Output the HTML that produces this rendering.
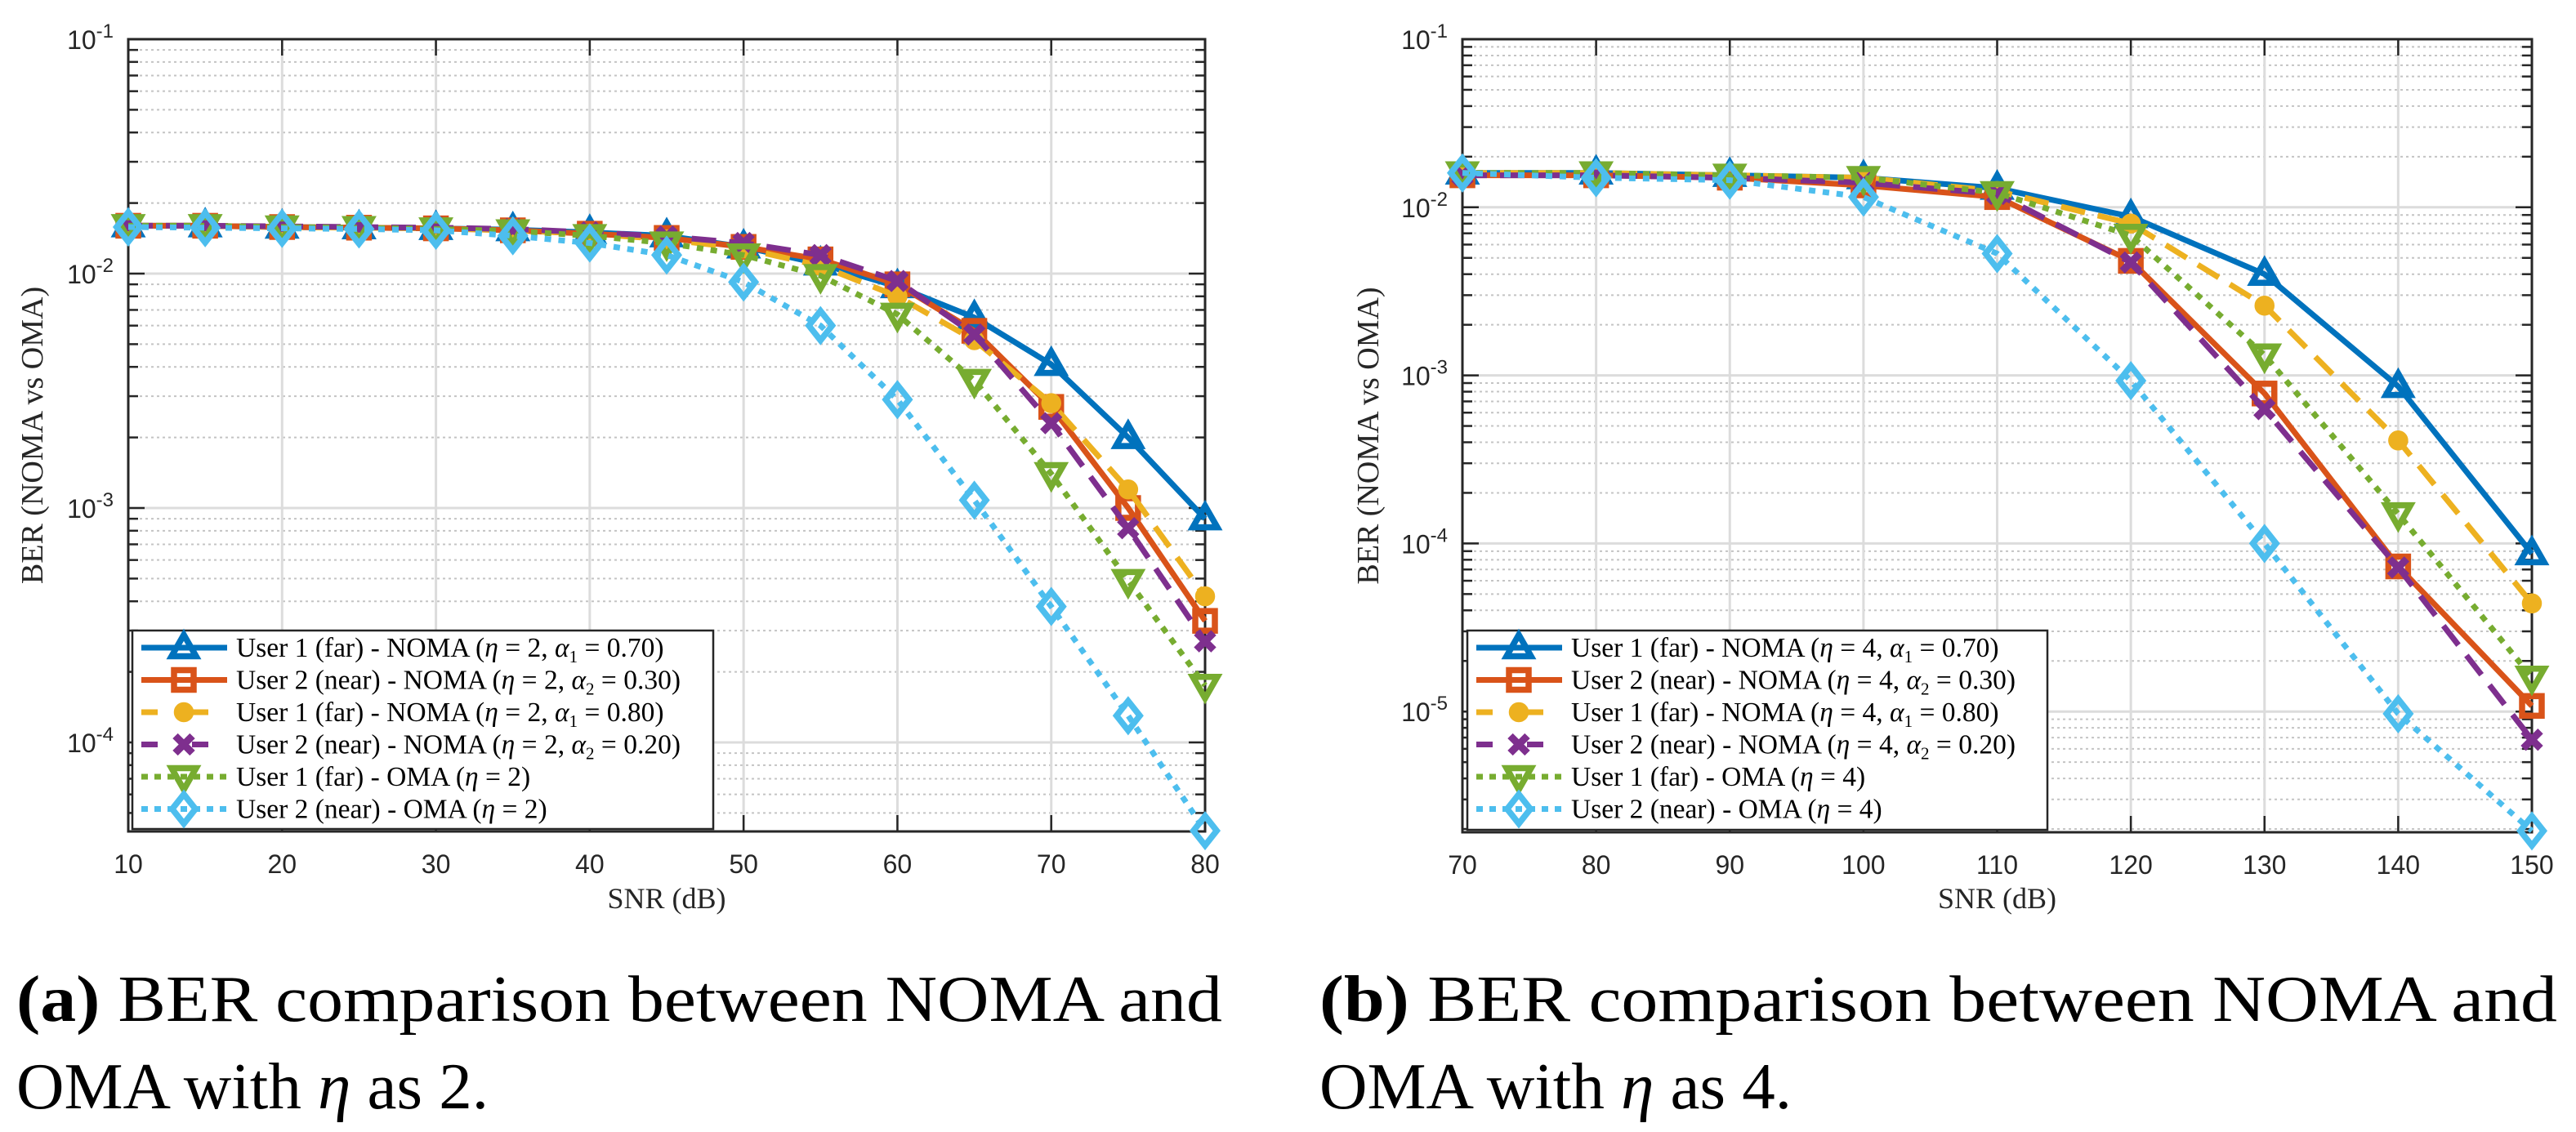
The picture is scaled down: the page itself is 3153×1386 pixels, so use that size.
<!DOCTYPE html>
<html><head><meta charset="utf-8"><style>
html,body{margin:0;padding:0;background:#fff;}
svg{display:block;}
</style></head>
<body>
<svg id="fig" width="3153" height="1386" viewBox="0 0 3153 1386" xmlns="http://www.w3.org/2000/svg">
<g id="plotA"></g>
<g id="plotB"></g>
<g font-family="'Liberation Serif', serif" font-size="80" fill="#000">
<text x="20" y="1250" textLength="1476" lengthAdjust="spacingAndGlyphs"><tspan font-weight="bold">(a)</tspan> BER comparison between NOMA and</text>
<text x="20" y="1357" textLength="578" lengthAdjust="spacingAndGlyphs">OMA with <tspan font-style="italic">η</tspan> as 2.</text>
<text x="1615" y="1250" textLength="1515" lengthAdjust="spacingAndGlyphs"><tspan font-weight="bold">(b)</tspan> BER comparison between NOMA and</text>
<text x="1615" y="1357" textLength="578" lengthAdjust="spacingAndGlyphs">OMA with <tspan font-style="italic">η</tspan> as 4.</text>
</g>
</svg>
<script>
// ---- Data: plot (a) ----
const snrA = [10,15,20,25,30,35,40,45,50,55,60,65,70,75,80];
const a_u1_070 = [1.6e-2,1.6e-2,1.58e-2,1.57e-2,1.56e-2,1.54e-2,1.5e-2,1.45e-2,1.3e-2,1.1e-2,8.8e-3,6.5e-3,4.1e-3,2.0e-3,9.0e-4];
const a_u2_030 = [1.6e-2,1.6e-2,1.58e-2,1.57e-2,1.56e-2,1.53e-2,1.48e-2,1.42e-2,1.3e-2,1.15e-2,9.0e-3,5.7e-3,2.7e-3,1.0e-3,3.3e-4];
const a_u1_080 = [1.6e-2,1.6e-2,1.58e-2,1.57e-2,1.56e-2,1.53e-2,1.48e-2,1.4e-2,1.28e-2,1.08e-2,8.0e-3,5.2e-3,2.8e-3,1.2e-3,4.2e-4];
const a_u2_020 = [1.6e-2,1.6e-2,1.59e-2,1.58e-2,1.57e-2,1.55e-2,1.5e-2,1.44e-2,1.35e-2,1.2e-2,9.3e-3,5.5e-3,2.3e-3,8.2e-4,2.7e-4];
const a_oma1 = [1.6e-2,1.6e-2,1.58e-2,1.57e-2,1.55e-2,1.52e-2,1.45e-2,1.35e-2,1.2e-2,9.8e-3,6.7e-3,3.5e-3,1.4e-3,4.9e-4,1.75e-4];
const a_oma2 = [1.58e-2,1.57e-2,1.56e-2,1.55e-2,1.53e-2,1.45e-2,1.35e-2,1.2e-2,9.2e-3,6.0e-3,2.9e-3,1.08e-3,3.8e-4,1.3e-4,4.2e-5];
const xTicksA = [10,20,30,40,50,60,70,80];
const yDecA = [-1,-2,-3,-4];

// ---- Data: plot (b) ----
const snrB = [70,80,90,100,110,120,130,140,150];
const b_u1_070 = [1.6e-2,1.6e-2,1.55e-2,1.5e-2,1.3e-2,8.8e-3,4.0e-3,8.6e-4,8.7e-5];
const b_u2_030 = [1.55e-2,1.55e-2,1.5e-2,1.35e-2,1.15e-2,4.8e-3,7.8e-4,7.3e-5,1.08e-5];
const b_u1_080 = [1.6e-2,1.6e-2,1.55e-2,1.5e-2,1.25e-2,8.0e-3,2.6e-3,4.1e-4,4.4e-5];
const b_u2_020 = [1.55e-2,1.55e-2,1.5e-2,1.4e-2,1.2e-2,4.7e-3,6.3e-4,7.2e-5,6.8e-6];
const b_oma1 = [1.6e-2,1.6e-2,1.55e-2,1.5e-2,1.22e-2,6.8e-3,1.32e-3,1.5e-4,1.6e-5];
const b_oma2 = [1.6e-2,1.5e-2,1.45e-2,1.15e-2,5.3e-3,9.3e-4,1.0e-4,9.7e-6,1.95e-6];
const xTicksB = [70,80,90,100,110,120,130,140,150];
const yDecB = [-1,-2,-3,-4,-5];

const NS='http://www.w3.org/2000/svg';
function mk(tag, attrs, parent){const e=document.createElementNS(NS,tag);for(const k in attrs)e.setAttribute(k,attrs[k]);if(parent)parent.appendChild(e);return e;}

const styles = [
 {color:'#0072BD', dash:'', marker:'tri-up'},
 {color:'#D95319', dash:'', marker:'square'},
 {color:'#EDB120', dash:'30 16', marker:'circle'},
 {color:'#7E2F8E', dash:'30 16', marker:'cross'},
 {color:'#77AC30', dash:'8 9', marker:'tri-down'},
 {color:'#4DBEEE', dash:'8 9', marker:'diamond'}
];
const seriesNames=['user1-far-noma-a070','user2-near-noma-a030','user1-far-noma-a080','user2-near-noma-a020','user1-far-oma','user2-near-oma'];

function marker(g,type,x,y,color,s){
  let m;
  const sw=7.5;
  if(type==='tri-up') m=mk('polygon',{points:`${x},${y-s*1.05} ${x-s},${y+s*0.7} ${x+s},${y+s*0.7}`,fill:'none',stroke:color,'stroke-width':sw},g);
  else if(type==='tri-down') m=mk('polygon',{points:`${x},${y+s*1.05} ${x-s},${y-s*0.7} ${x+s},${y-s*0.7}`,fill:'none',stroke:color,'stroke-width':sw},g);
  else if(type==='square') m=mk('rect',{x:x-s*0.8,y:y-s*0.8,width:s*1.6,height:s*1.6,fill:'none',stroke:color,'stroke-width':sw},g);
  else if(type==='circle') m=mk('circle',{cx:x,cy:y,r:s*0.75,fill:color,stroke:color,'stroke-width':2},g);
  else if(type==='diamond') m=mk('polygon',{points:`${x},${y-s*1.2} ${x+s*0.95},${y} ${x},${y+s*1.2} ${x-s*0.95},${y}`,fill:'none',stroke:color,'stroke-width':sw},g);
  else if(type==='cross') m=mk('path',{d:`M${x-s*0.7},${y-s*0.7}L${x+s*0.7},${y+s*0.7}M${x-s*0.7},${y+s*0.7}L${x+s*0.7},${y-s*0.7}`,stroke:color,'stroke-width':9,fill:'none'},g);
  
  
  return m;
}

function drawPlot(root, cfg){
  const {L,R,T,B,xmin,xmax,ymaxExp,yminExp,xs,series,xticks,ydecs,eta,legX,legW} = cfg;
  const X = v => L + (v-xmin)/(xmax-xmin)*(R-L);
  const Y = v => T + (ymaxExp - Math.log10(v))/(ymaxExp-yminExp)*(B-T);
  const grid = mk('g',{},root);
  
  
  for(let d=Math.floor(yminExp); d<ymaxExp; d++){
    for(let k=2;k<=9;k++){
      const v=k*Math.pow(10,d); if(Math.log10(v)<yminExp||Math.log10(v)>ymaxExp) continue;
      const y=Y(v);
      mk('line',{x1:L,x2:R,y1:y,y2:y,stroke:'#c4c4c4','stroke-width':2,'stroke-dasharray':'3 4'},grid);
      mk('line',{x1:L,x2:L+12,y1:y,y2:y,stroke:'#262626','stroke-width':2.5},grid);
      mk('line',{x1:R-12,x2:R,y1:y,y2:y,stroke:'#262626','stroke-width':2.5},grid);
    }
  }
  ydecs.forEach(d=>{const y=Y(Math.pow(10,d));
    mk('line',{x1:L,x2:R,y1:y,y2:y,stroke:'#dcdcdc','stroke-width':3},grid);
    mk('line',{x1:L,x2:L+20,y1:y,y2:y,stroke:'#262626','stroke-width':2.5},grid);
    mk('line',{x1:R-20,x2:R,y1:y,y2:y,stroke:'#262626','stroke-width':2.5},grid);
    const t=mk('text',{x:L-18,y:y+12,'text-anchor':'end','font-family':"'Liberation Sans',sans-serif",'font-size':32,fill:'#262626'},root);
    
    
    t.innerHTML=`10<tspan dy="-14" font-size="24">${d}</tspan>`;
  });
  xticks.forEach(v=>{const x=X(v);
    mk('line',{x1:x,x2:x,y1:T,y2:B,stroke:'#dcdcdc','stroke-width':3},grid);
    mk('line',{x1:x,x2:x,y1:B,y2:B-20,stroke:'#262626','stroke-width':2.5},grid);
    mk('line',{x1:x,x2:x,y1:T,y2:T+20,stroke:'#262626','stroke-width':2.5},grid);
    const t=mk('text',{x:x,y:B+51,'text-anchor':'middle','font-family':"'Liberation Sans',sans-serif",'font-size':32,fill:'#262626'},root);
    
    
    t.textContent=v;
  });
  const box=mk('rect',{x:L,y:T,width:R-L,height:B-T,fill:'none',stroke:'#262626','stroke-width':3},root);
  
  
  const clip='clip'+L;
  const cp=mk('clipPath',{id:clip},root); mk('rect',{x:L-30,y:T,width:R-L+60,height:B-T+40},cp);
  series.forEach((arr,i)=>{
    const st=styles[i];
    const g=mk('g',{'clip-path':`url(#${clip})`},root);
    
    
    const pts=arr.map((v,j)=>`${X(xs[j]).toFixed(1)},${Y(v).toFixed(1)}`).join(' ');
    const pl=mk('polyline',{points:pts,fill:'none',stroke:st.color,'stroke-width':7,'stroke-linejoin':'round'},g);
    if(st.dash) pl.setAttribute('stroke-dasharray',st.dash);
    
    
    arr.forEach((v,j)=>marker(g,st.marker,X(xs[j]),Y(v),st.color,15));
  });
  const lg=mk('g',{},root);
  
  
  const LT=772, LB=B-3;
  mk('rect',{x:legX,y:LT,width:legW,height:LB-LT,fill:'#fff',stroke:'#262626','stroke-width':2.5},lg);
  const labels=[
    `User 1 (far) - NOMA (<tspan font-style="italic">η</tspan> = ${eta}, <tspan font-style="italic">α</tspan><tspan font-size="21" dy="7">1</tspan><tspan dy="-7"> = 0.70)</tspan>`,
    `User 2 (near) - NOMA (<tspan font-style="italic">η</tspan> = ${eta}, <tspan font-style="italic">α</tspan><tspan font-size="21" dy="7">2</tspan><tspan dy="-7"> = 0.30)</tspan>`,
    `User 1 (far) - NOMA (<tspan font-style="italic">η</tspan> = ${eta}, <tspan font-style="italic">α</tspan><tspan font-size="21" dy="7">1</tspan><tspan dy="-7"> = 0.80)</tspan>`,
    `User 2 (near) - NOMA (<tspan font-style="italic">η</tspan> = ${eta}, <tspan font-style="italic">α</tspan><tspan font-size="21" dy="7">2</tspan><tspan dy="-7"> = 0.20)</tspan>`,
    `User 1 (far) - OMA (<tspan font-style="italic">η</tspan> = ${eta})`,
    `User 2 (near) - OMA (<tspan font-style="italic">η</tspan> = ${eta})`
  ];
  labels.forEach((lab,i)=>{
    const st=styles[i]; const y=793+i*39.5;
    const e=mk('g',{},lg);
    
    
    const ln=mk('line',{x1:legX+11,x2:legX+116,y1:y,y2:y,stroke:st.color,'stroke-width':7},e);
    if(st.dash) ln.setAttribute('stroke-dasharray',st.dash==='8 9'?'8 8':'20 42');
    marker(e,st.marker,legX+63,y,st.color,15);
    const t=mk('text',{x:legX+127,y:y+11,'font-family':"'Liberation Serif',serif",'font-size':33.5,fill:'#000'},e);
    
    
    t.innerHTML=lab;
  });
  const xl=mk('text',{x:(L+R)/2,y:1112,'text-anchor':'middle','font-family':"'Liberation Serif',serif",'font-size':36,fill:'#262626'},root);
  
  
  xl.textContent='SNR (dB)';
  const yx=cfg.ylabX, yy=(T+B)/2;
  const yl=mk('text',{x:yx,y:yy,transform:`rotate(-90 ${yx} ${yy})`,'text-anchor':'middle','font-family':"'Liberation Serif',serif",'font-size':38,fill:'#262626'},root);
  
  
  yl.textContent='BER (NOMA vs OMA)';
}

drawPlot(document.getElementById('plotA'),{L:157,R:1475,T:48,B:1018,xmin:10,xmax:80,ymaxExp:-1,yminExp:-1-(1018-48)/287,
  xs:snrA,series:[a_u1_070,a_u2_030,a_u1_080,a_u2_020,a_oma1,a_oma2],xticks:xTicksA,ydecs:yDecA,eta:2,legX:162,legW:711,ylabX:52});
drawPlot(document.getElementById('plotB'),{L:1790,R:3099,T:48,B:1019,xmin:70,xmax:150,ymaxExp:-1,yminExp:-1-(1019-48)/205.8,
  xs:snrB,series:[b_u1_070,b_u2_030,b_u1_080,b_u2_020,b_oma1,b_oma2],xticks:xTicksB,ydecs:yDecB,eta:4,legX:1796,legW:710,ylabX:1687});
</script>
</body></html>
